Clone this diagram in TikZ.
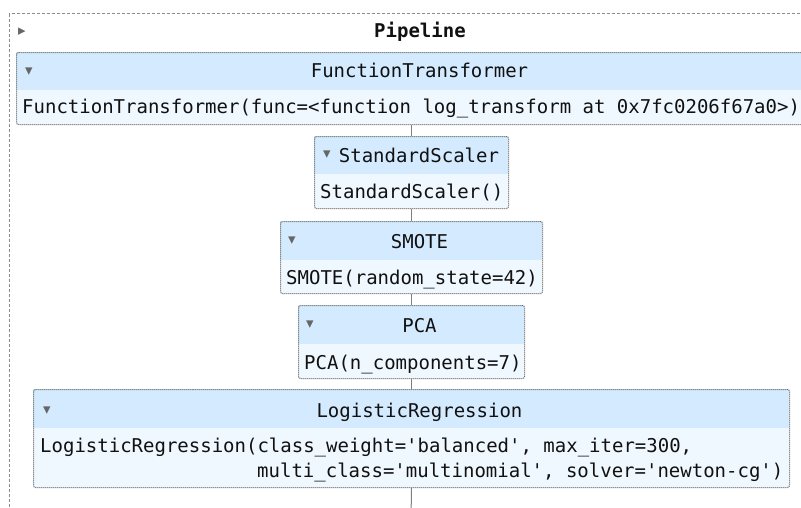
\documentclass[tikz,border=0pt]{standalone}
\usepackage{fontspec}
\setmonofont{DejaVu Sans Mono}
\newfontfamily\symfont{DejaVu Sans}
\definecolor{hdrc}{HTML}{D4EBFF}
\definecolor{bodc}{HTML}{F0F8FF}
\definecolor{framec}{HTML}{5A5A5A}
\definecolor{linec}{HTML}{808080}
\definecolor{pipec}{HTML}{8C8C8C}
\definecolor{arrc}{HTML}{666666}
\definecolor{txtc}{HTML}{111111}
\newcommand\estbox[6]{%
  \fill[hdrc] (#2,#4) rectangle (#3,#5);
  \fill[bodc] (#2,#5) rectangle (#3,#6);
  \pgfmathsetmacro\bw{#3-#2}\pgfmathsetmacro\bh{#6-#4}%
  \node[frame, minimum width=\bw pt, minimum height=\bh pt] (#1) at (#2,#4) {};
}
\begin{document}
\begin{tikzpicture}[x=1pt,y=-1pt,
  frame/.style={draw=framec, line width=1pt, dash pattern=on 1pt off 1pt, rounded corners=2pt, inner sep=0pt, anchor=north west},
  pipebox/.style={draw=pipec, line width=1pt, dash pattern=on 3pt off 2pt, inner sep=0pt, anchor=north west},
  conn/.style={draw=linec, line width=1pt},
  title/.style={font=\ttfamily\fontsize{19}{25}\selectfont, text=txtc, inner sep=0pt, anchor=base},
  bodytext/.style={title, anchor=base west},
  tri/.style={font=\symfont\fontsize{15}{15}\selectfont, text=arrc, inner sep=0pt},
]
\useasboundingbox (0,0) rectangle (801,507);
\clip (0,0) rectangle (801,507);
\fill[white] (0,0) rectangle (801,507);
\node[pipebox, minimum width=830pt, minimum height=530pt] (pipe) at (9,13) {};
\node[tri] (pipetri) at (22,32) {▸};
\node[title, font=\ttfamily\bfseries\fontsize{19}{25}\selectfont] (pipetitle) at (420,37) {Pipeline};

\estbox{ft}{16}{806}{52}{90}{124}
\estbox{ss}{314}{508}{136}{174}{208}
\estbox{sm}{280}{542}{221}{260}{293}
\estbox{pca}{298}{524}{305}{344}{378}
\estbox{lr}{33}{789}{389}{428}{487}

\draw[conn] (ft.south) -- (ss.north);
\draw[conn] (ss.south) -- (sm.north);
\draw[conn] (sm.south) -- (pca.north);
\draw[conn] (pca.south) -- (lr.north);
\coordinate (lrend) at (411,520);
\draw[conn] (lr.south) -- (lrend);

\node[tri] (fttri) at (29,72) {▾};
\node[title] (fttitle) at (419.5,77) {FunctionTransformer};
\node[bodytext] (ftbody) at (22,113) {FunctionTransformer(func=<function log\_transform at 0x7fc0206f67a0>)};

\node[tri] (sstri) at (327,155) {▾};
\node[title] (sstitle) at (419,162) {StandardScaler};
\node[bodytext] (ssbody) at (320,198) {StandardScaler()};

\node[tri] (smtri) at (292,241) {▾};
\node[title] (smtitle) at (419.5,248) {SMOTE};
\node[bodytext] (smbody) at (286,284) {SMOTE(random\_state=42)};

\node[tri] (pcatri) at (310,325) {▾};
\node[title] (pcatitle) at (419.5,332) {PCA};
\node[bodytext] (pcabody) at (304,369) {PCA(n\_components=7)};

\node[tri] (lrtri) at (47,411) {▾};
\node[title] (lrtitle) at (419.5,417) {LogisticRegression};
\node[bodytext] (lrbody1) at (40,452) {LogisticRegression(class\_weight='balanced', max\_iter=300,};
\node[bodytext] (lrbody2) at (257,477) {multi\_class='multinomial', solver='newton-cg')};
\end{tikzpicture}
\end{document}
